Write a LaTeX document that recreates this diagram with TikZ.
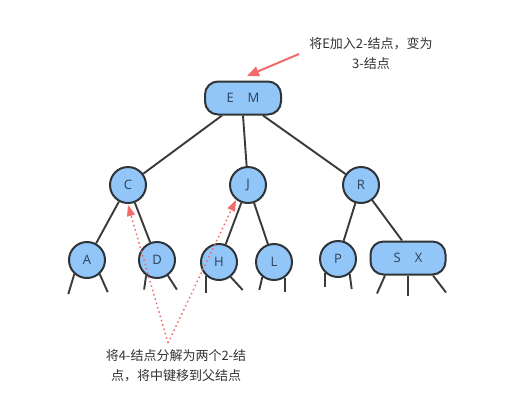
\documentclass[tikz,border=0pt]{standalone}
\usepackage{fontspec}
\setmainfont{Open Sans}
\newfontfamily\cjk{Noto Sans CJK SC}
\usetikzlibrary{arrows.meta}
\definecolor{nodefill}{HTML}{92C5F8}
\definecolor{nodeline}{HTML}{2F3438}
\definecolor{edgecol}{HTML}{3A3A3A}
\definecolor{redarr}{HTML}{F26B6B}
\definecolor{txt}{HTML}{333333}
\definecolor{nodetxt}{HTML}{2E4057}
\tikzset{
  circ/.style={circle, draw=nodeline, fill=nodefill, line width=2pt, minimum size=36pt, inner sep=0pt, text=nodetxt, font=\fontsize{13}{13}\selectfont},
  rbox/.style={rectangle, rounded corners=13pt, draw=nodeline, fill=nodefill, line width=2pt, minimum width=76pt, minimum height=33pt, inner sep=0pt, text=nodetxt, font=\fontsize{13}{13}\selectfont},
  edge/.style={draw=edgecol, line width=1.9pt},
  note/.style={font=\cjk\fontsize{13}{20}\selectfont, align=center, text=txt},
  solidarr/.style={draw=redarr, line width=2pt, -{Triangle[length=12pt,width=10pt]}},
  dotarr/.style={draw=redarr, line width=1.5pt, dash pattern=on 1.5pt off 3pt, -{Triangle[length=11pt,width=8pt]}},
}
\begin{document}
\begin{tikzpicture}[x=1pt,y=-1pt]
\useasboundingbox (0,0) rectangle (516,416);
\fill[white] (0,0) rectangle (516,416);
% node positions (drawn invisibly first, then edges, then visible nodes)
\node[rbox, draw=none, fill=none] (EM) at (243,98) {\phantom{E\hspace{14pt}M}};
\node[circ, draw=none, fill=none] (C) at (128,185) {};
\node[circ, draw=none, fill=none] (J) at (248,185) {};
\node[circ, draw=none, fill=none] (R) at (361,185) {};
\node[circ, draw=none, fill=none] (A) at (87,260) {};
\node[circ, draw=none, fill=none] (D) at (157,260) {};
\node[circ, draw=none, fill=none] (H) at (219,262) {};
\node[circ, draw=none, fill=none] (L) at (274,262) {};
\node[circ, draw=none, fill=none] (P) at (338,259) {};
\node[rbox, draw=none, fill=none, minimum width=75pt] (SX) at (408,258) {};
% tree edges
\draw[edge] ([xshift=-21pt]EM.south) -- (C);
\draw[edge] (EM.south) -- (J);
\draw[edge] ([xshift=20pt]EM.south) -- (R);
\draw[edge] (C) -- (A);
\draw[edge] (C) -- (D);
\draw[edge] (J) -- (H);
\draw[edge] (J) -- (L);
\draw[edge] (R) -- (P);
\draw[edge] (R) -- ([xshift=-6pt]SX.north);
% visible nodes
\node[rbox] (EMv) at (EM) {E\hspace{14pt}M};
\node[circ] (Cv) at (C) {C};
\node[circ] (Jv) at (J) {J};
\node[circ] (Rv) at (R) {R};
\node[circ] (Av) at (A) {A};
\node[circ] (Dv) at (D) {D};
\node[circ] (Hv) at (H) {H};
\node[circ] (Lv) at (L) {L};
\node[circ] (Pv) at (P) {P};
\node[rbox, minimum width=75pt] (SXv) at (SX) {S\hspace{14pt}X};
% leaf stubs
\draw[edge] (A.228) -- +(-6,20);
\draw[edge] (A.312) -- +(8,18);
\draw[edge] (D.235) -- +(-2,14);
\draw[edge] (D.305) -- +(9,14);
\draw[edge] (H.228) -- +(0,17);
\draw[edge] (H.308) -- +(12,13);
\draw[edge] (L.232) -- +(-3,13);
\draw[edge] (L.305) -- +(0,14);
\draw[edge] (P.228) -- +(0,14);
\draw[edge] (P.308) -- +(2,15);
\draw[edge] ([xshift=-23pt]SX.south) -- +(-8,18);
\draw[edge] (SX.south) -- +(0,20);
\draw[edge] ([xshift=25pt]SX.south) -- +(13,17);
% notes
\node[note] (top) at (371,53) {将E加入2-结点，变为\\3-结点};
\node[note] (bot) at (176,366) {将4-结点分解为两个2-结\\点，将中键移到父结点};
\coordinate (topstart) at (299,54);
\coordinate (topend) at (247,76);
\draw[solidarr] (topstart) -- (topend);
\coordinate (apex) at (168,343);
\coordinate (cend) at (128,205);
\coordinate (jend) at (236,200);
\draw[dotarr] (apex) -- (cend);
\draw[dotarr] (apex) -- (jend);
\end{tikzpicture}
\end{document}
